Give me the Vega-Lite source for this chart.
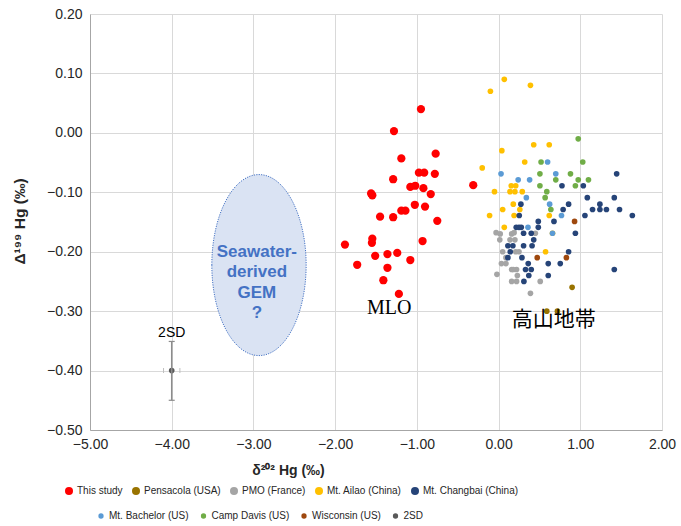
{
  "$schema": "https://vega.github.io/schema/vega-lite/v6.json",
  "width": 572,
  "height": 416,
  "autosize": "none",
  "padding": {"left": 90, "top": 14, "right": 19, "bottom": 96},
  "background": "white",
  "config": {
    "view": {"stroke": null},
    "font": "Liberation Sans",
    "axis": {
      "labelFont": "Liberation Sans", "labelFontSize": 14, "labelColor": "#262626",
      "titleFont": "Liberation Sans", "titleFontSize": 14, "titleFontWeight": "bold", "titleColor": "#262626",
      "gridColor": "#D9D9D9", "gridWidth": 1, "domainColor": "#A6A6A6", "ticks": false, "labelPadding": 8,
      "labelFlush": false, "labelOverlap": false
    }
  },
  "datasets": {
    "row1": [
      {"s": "This study", "x": -0.95, "y": 0.04}, {"s": "This study", "x": -1.28, "y": 0.003}, {"s": "This study", "x": -0.77, "y": -0.035},
      {"s": "This study", "x": -1.19, "y": -0.043}, {"s": "This study", "x": -0.975, "y": -0.067}, {"s": "This study", "x": -0.91, "y": -0.067},
      {"s": "This study", "x": -0.78, "y": -0.069}, {"s": "This study", "x": -1.29, "y": -0.078}, {"s": "This study", "x": -0.31, "y": -0.088},
      {"s": "This study", "x": -1.08, "y": -0.091}, {"s": "This study", "x": -1.02, "y": -0.089}, {"s": "This study", "x": -0.92, "y": -0.093},
      {"s": "This study", "x": -1.56, "y": -0.102}, {"s": "This study", "x": -1.545, "y": -0.105}, {"s": "This study", "x": -0.83, "y": -0.103},
      {"s": "This study", "x": -1.025, "y": -0.121}, {"s": "This study", "x": -0.9, "y": -0.124}, {"s": "This study", "x": -1.19, "y": -0.131},
      {"s": "This study", "x": -1.14, "y": -0.131}, {"s": "This study", "x": -1.45, "y": -0.141}, {"s": "This study", "x": -1.29, "y": -0.142},
      {"s": "This study", "x": -0.75, "y": -0.148}, {"s": "This study", "x": -1.545, "y": -0.178}, {"s": "This study", "x": -1.55, "y": -0.185},
      {"s": "This study", "x": -0.93, "y": -0.182}, {"s": "This study", "x": -1.88, "y": -0.188}, {"s": "This study", "x": -1.51, "y": -0.207},
      {"s": "This study", "x": -1.36, "y": -0.204}, {"s": "This study", "x": -1.24, "y": -0.202}, {"s": "This study", "x": -1.08, "y": -0.214},
      {"s": "This study", "x": -1.73, "y": -0.222}, {"s": "This study", "x": -1.36, "y": -0.227}, {"s": "This study", "x": -1.41, "y": -0.248},
      {"s": "This study", "x": -1.22, "y": -0.271},
      {"s": "Pensacola (USA)", "x": 0.9, "y": -0.26}, {"s": "Pensacola (USA)", "x": 0.59, "y": -0.3}, {"s": "Pensacola (USA)", "x": 0.72, "y": -0.3},
      {"s": "PMO (France)", "x": -0.03, "y": -0.168}, {"s": "PMO (France)", "x": 0.02, "y": -0.17}, {"s": "PMO (France)", "x": 0.015, "y": -0.18},
      {"s": "PMO (France)", "x": 0.16, "y": -0.17}, {"s": "PMO (France)", "x": 0.14, "y": -0.18}, {"s": "PMO (France)", "x": 0.2, "y": -0.18},
      {"s": "PMO (France)", "x": 0.45, "y": -0.169}, {"s": "PMO (France)", "x": 0.05, "y": -0.2}, {"s": "PMO (France)", "x": 0.25, "y": -0.2},
      {"s": "PMO (France)", "x": 0.09, "y": -0.21}, {"s": "PMO (France)", "x": 0.035, "y": -0.22}, {"s": "PMO (France)", "x": 0.09, "y": -0.22},
      {"s": "PMO (France)", "x": 0.16, "y": -0.23}, {"s": "PMO (France)", "x": 0.22, "y": -0.23}, {"s": "PMO (France)", "x": 0.23, "y": -0.24},
      {"s": "PMO (France)", "x": -0.02, "y": -0.238}, {"s": "PMO (France)", "x": 0.16, "y": -0.25}, {"s": "PMO (France)", "x": 0.22, "y": -0.25},
      {"s": "PMO (France)", "x": 0.51, "y": -0.25}, {"s": "PMO (France)", "x": 0.39, "y": -0.27}, {"s": "PMO (France)", "x": 0.19, "y": -0.168},
      {"s": "PMO (France)", "x": 0.21, "y": -0.2}, {"s": "PMO (France)", "x": 0.18, "y": -0.23},
      {"s": "Mt. Ailao (China)", "x": -0.1, "y": 0.07}, {"s": "Mt. Ailao (China)", "x": 0.07, "y": 0.09}, {"s": "Mt. Ailao (China)", "x": 0.39, "y": 0.08},
      {"s": "Mt. Ailao (China)", "x": 0.04, "y": -0.03}, {"s": "Mt. Ailao (China)", "x": 0.43, "y": -0.02}, {"s": "Mt. Ailao (China)", "x": 0.62, "y": -0.02},
      {"s": "Mt. Ailao (China)", "x": 0.32, "y": -0.049}, {"s": "Mt. Ailao (China)", "x": -0.2, "y": -0.059}, {"s": "Mt. Ailao (China)", "x": -0.05, "y": -0.099},
      {"s": "Mt. Ailao (China)", "x": 0.155, "y": -0.089}, {"s": "Mt. Ailao (China)", "x": 0.21, "y": -0.089}, {"s": "Mt. Ailao (China)", "x": 0.14, "y": -0.099},
      {"s": "Mt. Ailao (China)", "x": 0.2, "y": -0.099}, {"s": "Mt. Ailao (China)", "x": 0.29, "y": -0.099}, {"s": "Mt. Ailao (China)", "x": 0.18, "y": -0.12},
      {"s": "Mt. Ailao (China)", "x": 0.05, "y": -0.129}, {"s": "Mt. Ailao (China)", "x": 0.26, "y": -0.129}, {"s": "Mt. Ailao (China)", "x": -0.11, "y": -0.139},
      {"s": "Mt. Ailao (China)", "x": 0.19, "y": -0.139}, {"s": "Mt. Ailao (China)", "x": 0.07, "y": -0.159}, {"s": "Mt. Ailao (China)", "x": 0.62, "y": -0.139},
      {"s": "Mt. Ailao (China)", "x": 0.66, "y": -0.169}, {"s": "Mt. Ailao (China)", "x": 0.575, "y": -0.2},
      {"s": "Mt. Changbai (China)", "x": 1.445, "y": -0.069}, {"s": "Mt. Changbai (China)", "x": 0.776, "y": -0.089}, {"s": "Mt. Changbai (China)", "x": 1.037, "y": -0.089},
      {"s": "Mt. Changbai (China)", "x": 1.086, "y": -0.109}, {"s": "Mt. Changbai (China)", "x": 1.416, "y": -0.109}, {"s": "Mt. Changbai (China)", "x": 0.857, "y": -0.12},
      {"s": "Mt. Changbai (China)", "x": 1.24, "y": -0.12}, {"s": "Mt. Changbai (China)", "x": 1.15, "y": -0.129}, {"s": "Mt. Changbai (China)", "x": 1.24, "y": -0.129},
      {"s": "Mt. Changbai (China)", "x": 1.32, "y": -0.129}, {"s": "Mt. Changbai (China)", "x": 1.48, "y": -0.129}, {"s": "Mt. Changbai (China)", "x": 1.637, "y": -0.139},
      {"s": "Mt. Changbai (China)", "x": 1.057, "y": -0.139}, {"s": "Mt. Changbai (China)", "x": 0.79, "y": -0.129}, {"s": "Mt. Changbai (China)", "x": 0.273, "y": -0.12},
      {"s": "Mt. Changbai (China)", "x": 0.253, "y": -0.139}, {"s": "Mt. Changbai (China)", "x": 0.678, "y": -0.149}, {"s": "Mt. Changbai (China)", "x": 0.486, "y": -0.149},
      {"s": "Mt. Changbai (China)", "x": 0.486, "y": -0.159}, {"s": "Mt. Changbai (China)", "x": 0.216, "y": -0.159}, {"s": "Mt. Changbai (China)", "x": 0.25, "y": -0.159},
      {"s": "Mt. Changbai (China)", "x": 0.278, "y": -0.159}, {"s": "Mt. Changbai (China)", "x": 0.306, "y": -0.169}, {"s": "Mt. Changbai (China)", "x": 0.4, "y": -0.169},
      {"s": "Mt. Changbai (China)", "x": 0.94, "y": -0.169}, {"s": "Mt. Changbai (China)", "x": 0.43, "y": -0.18}, {"s": "Mt. Changbai (China)", "x": 0.41, "y": -0.19},
      {"s": "Mt. Changbai (China)", "x": 0.306, "y": -0.19}, {"s": "Mt. Changbai (China)", "x": 0.175, "y": -0.19}, {"s": "Mt. Changbai (China)", "x": 0.114, "y": -0.19},
      {"s": "Mt. Changbai (China)", "x": 0.143, "y": -0.2}, {"s": "Mt. Changbai (China)", "x": 0.114, "y": -0.21}, {"s": "Mt. Changbai (China)", "x": 0.286, "y": -0.21},
      {"s": "Mt. Changbai (China)", "x": 0.857, "y": -0.2}, {"s": "Mt. Changbai (China)", "x": 0.363, "y": -0.22}, {"s": "Mt. Changbai (China)", "x": 0.608, "y": -0.22},
      {"s": "Mt. Changbai (China)", "x": 0.755, "y": -0.22}, {"s": "Mt. Changbai (China)", "x": 0.33, "y": -0.23}, {"s": "Mt. Changbai (China)", "x": 0.4, "y": -0.23},
      {"s": "Mt. Changbai (China)", "x": 1.416, "y": -0.23}, {"s": "Mt. Changbai (China)", "x": 0.37, "y": -0.24}, {"s": "Mt. Changbai (China)", "x": 0.608, "y": -0.24},
      {"s": "Mt. Changbai (China)", "x": 0.31, "y": -0.25}
    ],
    "row2": [
      {"s": "Mt. Bachelor (US)", "x": 0.03, "y": -0.069}, {"s": "Mt. Bachelor (US)", "x": 0.24, "y": -0.079}, {"s": "Mt. Bachelor (US)", "x": 0.38, "y": -0.079},
      {"s": "Mt. Bachelor (US)", "x": 0.6, "y": -0.049}, {"s": "Mt. Bachelor (US)", "x": 0.7, "y": -0.069}, {"s": "Mt. Bachelor (US)", "x": 0.34, "y": -0.109},
      {"s": "Mt. Bachelor (US)", "x": 0.625, "y": -0.12}, {"s": "Mt. Bachelor (US)", "x": 0.77, "y": -0.139}, {"s": "Mt. Bachelor (US)", "x": 0.36, "y": -0.159},
      {"s": "Mt. Bachelor (US)", "x": 0.66, "y": -0.169},
      {"s": "Camp Davis (US)", "x": 0.975, "y": -0.01}, {"s": "Camp Davis (US)", "x": 0.52, "y": -0.049}, {"s": "Camp Davis (US)", "x": 1.03, "y": -0.049},
      {"s": "Camp Davis (US)", "x": 0.506, "y": -0.069}, {"s": "Camp Davis (US)", "x": 0.7, "y": -0.079}, {"s": "Camp Davis (US)", "x": 0.88, "y": -0.069},
      {"s": "Camp Davis (US)", "x": 0.975, "y": -0.079}, {"s": "Camp Davis (US)", "x": 1.1, "y": -0.079}, {"s": "Camp Davis (US)", "x": 0.94, "y": -0.089},
      {"s": "Camp Davis (US)", "x": 0.506, "y": -0.089}, {"s": "Camp Davis (US)", "x": 0.59, "y": -0.099}, {"s": "Camp Davis (US)", "x": 0.57, "y": -0.109},
      {"s": "Camp Davis (US)", "x": 0.64, "y": -0.129},
      {"s": "Wisconsin (US)", "x": 0.93, "y": -0.149}, {"s": "Wisconsin (US)", "x": 0.473, "y": -0.21}, {"s": "Wisconsin (US)", "x": 0.83, "y": -0.21},
      {"s": "2SD", "x": -4, "y": -0.4}
    ]
  },
  "layer": [
    {
      "data": {"values": [{"x": -2.932, "y": -0.2225}]},
      "mark": {"type": "point", "filled": true, "opacity": 1, "size": 32761,
        "shape": "M -0.521 0 A 0.521 1 0 1 1 0.521 0 A 0.521 1 0 1 1 -0.521 0 Z",
        "fill": "#DAE3F3", "stroke": "#4472C4", "strokeWidth": 1, "strokeDash": [1.2, 1.2]},
      "encoding": {
        "x": {"field": "x", "type": "quantitative", "scale": {"domain": [-5, 2], "nice": false, "zero": false},
          "axis": {"values": [-5, -4, -3, -2, -1, 0, 1, 2], "format": ".2f", "title": "δ²⁰² Hg (‰)",
            "titleX": 198, "titleY": 40, "titleBaseline": "middle", "titleAlign": "center", "labelPadding": 7}},
        "y": {"field": "y", "type": "quantitative", "scale": {"domain": [-0.5, 0.2], "nice": false, "zero": false},
          "axis": {"values": [-0.5, -0.4, -0.3, -0.2, -0.1, 0, 0.1, 0.2], "format": ".2f", "title": "Δ¹⁹⁹ Hg (‰)",
            "titleX": -71, "titleY": 207, "titleBaseline": "middle", "titleAlign": "center", "titleAngle": -90, "titleFontSize": 15.5}}
      }
    },
    {
      "data": {"name": "row1"},
      "mark": {"type": "point", "filled": true, "opacity": 1},
      "encoding": {
        "x": {"field": "x", "type": "quantitative"},
        "y": {"field": "y", "type": "quantitative"},
        "color": {"field": "s", "type": "nominal",
          "scale": {"domain": ["This study", "Pensacola (USA)", "PMO (France)", "Mt. Ailao (China)", "Mt. Changbai (China)"],
            "range": ["#FF0000", "#997300", "#A5A5A5", "#FFC000", "#264478"]},
          "legend": {"orient": "none", "legendX": -26, "legendY": 472, "direction": "horizontal", "title": null,
            "labelFont": "Liberation Sans", "labelFontSize": 10, "labelColor": "#262626",
            "columnPadding": 8, "symbolType": "circle", "symbolSize": 64, "labelOffset": 3,
            "encode": {"symbols": {"update": {"size": {"signal": "datum.value === 'This study' ? 60 : 24"}}}}}},
        "size": {"condition": {"test": "datum.s === 'This study'", "value": 68}, "value": 32}
      }
    },
    {
      "data": {"name": "row2"},
      "mark": {"type": "point", "filled": true, "opacity": 1, "size": 32},
      "encoding": {
        "x": {"field": "x", "type": "quantitative"},
        "y": {"field": "y", "type": "quantitative"},
        "fill": {"field": "s", "type": "nominal",
          "scale": {"domain": ["Mt. Bachelor (US)", "Camp Davis (US)", "Wisconsin (US)", "2SD"],
            "range": ["#5B9BD5", "#70AD47", "#9E480E", "#595959"]},
          "legend": {"orient": "none", "legendX": 6, "legendY": 497, "direction": "horizontal", "title": null,
            "labelFont": "Liberation Sans", "labelFontSize": 10, "labelColor": "#262626",
            "columnPadding": 9.5, "symbolType": "circle", "symbolSize": 28, "labelOffset": 3}}
      }
    },
    {
      "data": {"values": [{"x": -4, "y": -0.351, "y2": -0.45}]},
      "mark": {"type": "rule", "color": "#8C8C8C", "strokeWidth": 1.5},
      "encoding": {"x": {"field": "x", "type": "quantitative"}, "y": {"field": "y", "type": "quantitative"}, "y2": {"field": "y2"}}
    },
    {
      "data": {"values": [{"x": -4, "y": -0.351}, {"x": -4, "y": -0.45}]},
      "mark": {"type": "tick", "orient": "horizontal", "color": "#8C8C8C", "size": 6, "thickness": 1.2, "opacity": 1},
      "encoding": {"x": {"field": "x", "type": "quantitative"}, "y": {"field": "y", "type": "quantitative"}}
    },
    {
      "data": {"values": [{"x": -4.1, "y": -0.4}, {"x": -3.9, "y": -0.4}]},
      "mark": {"type": "tick", "orient": "vertical", "color": "#BFBFBF", "size": 5, "thickness": 1, "opacity": 1},
      "encoding": {"x": {"field": "x", "type": "quantitative"}, "y": {"field": "y", "type": "quantitative"}}
    },
    {
      "data": {"values": [{"x": -4, "y": -0.337, "t": "2SD"}]},
      "mark": {"type": "text", "font": "Liberation Sans", "fontSize": 14, "color": "#000000", "baseline": "middle"},
      "encoding": {"x": {"field": "x", "type": "quantitative"}, "y": {"field": "y", "type": "quantitative"}, "text": {"field": "t"}}
    },
    {
      "data": {"values": [{"x": -1.339, "y": -0.295, "t": "MLO"}]},
      "mark": {"type": "text", "font": "Liberation Serif", "fontSize": 20, "color": "#000000", "baseline": "middle"},
      "encoding": {"x": {"field": "x", "type": "quantitative"}, "y": {"field": "y", "type": "quantitative"}, "text": {"field": "t"}}
    },
    {
      "data": {"values": [{"x": 0.676, "y": -0.315, "t": "高山地帯"}]},
      "mark": {"type": "text", "font": "Noto Sans CJK JP", "fontSize": 21, "color": "#000000", "baseline": "middle"},
      "encoding": {"x": {"field": "x", "type": "quantitative"}, "y": {"field": "y", "type": "quantitative"}, "text": {"field": "t"}}
    },
    {
      "data": {"values": [{"x": -2.958, "y": -0.2003, "t": "Seawater-\nderived\nGEM\n?"}]},
      "mark": {"type": "text", "font": "Liberation Sans", "fontSize": 17, "fontWeight": "bold", "color": "#4472C4",
        "baseline": "middle", "lineBreak": "\n", "lineHeight": 20.5},
      "encoding": {"x": {"field": "x", "type": "quantitative"}, "y": {"field": "y", "type": "quantitative"}, "text": {"field": "t"}}
    }
  ]
}
